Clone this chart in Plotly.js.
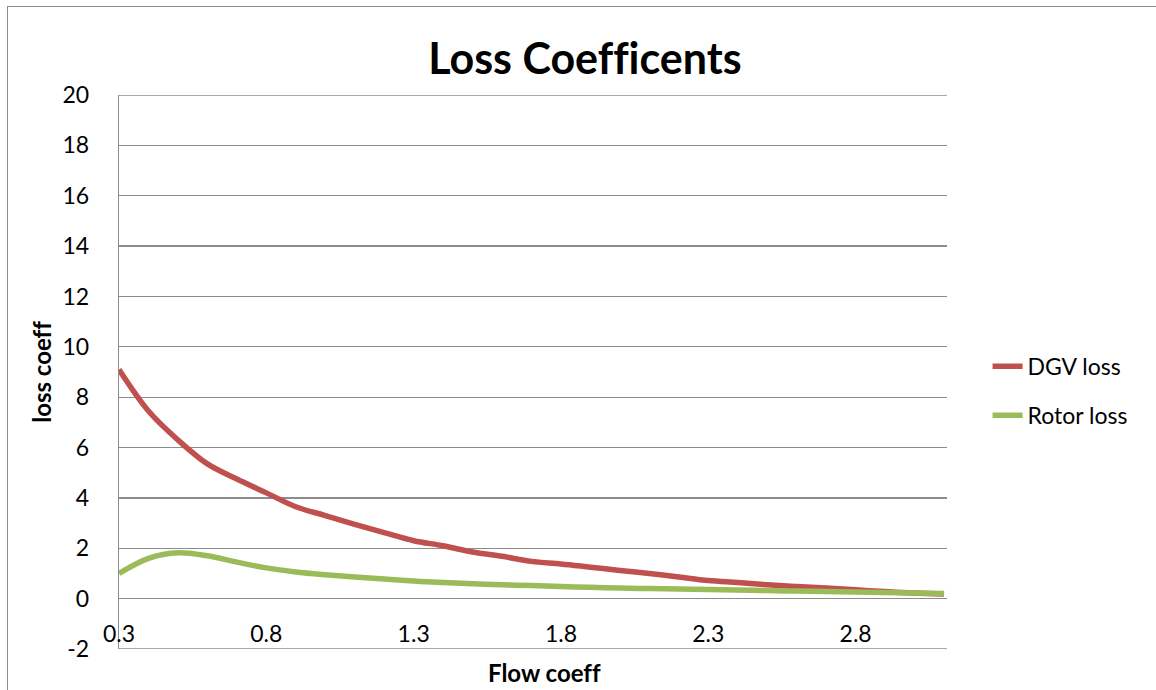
<!DOCTYPE html>
<html>
<head>
<meta charset="utf-8">
<script src="https://cdn.plot.ly/plotly-3.0.1.min.js"></script>
<style>
  html, body { margin: 0; padding: 0; background: #fff; }
  #wrap { position: relative; width: 1156px; height: 690px; overflow: hidden; }
  #chart { width: 1156px; height: 690px; }
  #frame { position: absolute; left: 7px; top: 6px; width: 1200px; height: 760px;
           border: 1px solid #8c8c8c; pointer-events: none; box-sizing: border-box; }
  svg text { font-variant-ligatures: none; font-feature-settings: "liga" 0; }
</style>
</head>
<body>
<div id="wrap">
  <div id="chart"></div>
  <div id="frame"></div>
</div>
<script>
const flowCoeff = [0.3,0.4,0.5,0.6,0.7,0.8,0.9,1.0,1.1,1.2,1.3,1.4,1.5,1.6,1.7,1.8,1.9,2.0,2.1,2.2,2.3,2.4,2.5,2.6,2.7,2.8,2.9,3.0,3.1];
const dgvLoss = [9.1,7.45,6.3,5.35,4.75,4.2,3.65,3.3,2.95,2.62,2.3,2.1,1.85,1.68,1.48,1.38,1.25,1.12,1.0,0.86,0.72,0.64,0.55,0.48,0.42,0.35,0.28,0.22,0.18];
const rotorLoss = [1.0,1.6,1.82,1.7,1.45,1.22,1.06,0.95,0.86,0.78,0.7,0.64,0.59,0.55,0.52,0.48,0.45,0.42,0.4,0.38,0.36,0.34,0.32,0.3,0.28,0.26,0.24,0.22,0.2];
const seriesNames = ["DGV loss", "Rotor loss"];
const xTicks = [0.3, 0.8, 1.3, 1.8, 2.3, 2.8];
const yTicks = [-2, 0, 2, 4, 6, 8, 10, 12, 14, 16, 18, 20];

const FONT = "Lato, 'Open Sans', sans-serif";

const traces = [
  { x: flowCoeff, y: dgvLoss, name: seriesNames[0], type: "scatter", mode: "lines",
    line: { color: "#C0504D", width: 5.5, shape: "spline" }, legendgroup: "a" },
  { x: flowCoeff, y: rotorLoss, name: seriesNames[1], type: "scatter", mode: "lines",
    line: { color: "#9BBB59", width: 5.5, shape: "spline" }, legendgroup: "b" }
];

const layout = {
  width: 1156, height: 690,
  margin: { l: 119, r: 209, t: 95, b: 41, pad: 0 },
  paper_bgcolor: "#ffffff", plot_bgcolor: "#ffffff",
  font: { family: FONT, color: "#000000", size: 23 },
  title: { text: "<b>Loss Coefficents</b>", font: { family: FONT, size: 43, color: "#000" },
           x: 0.506, xanchor: "center", y: 0.915, yanchor: "middle" },
  xaxis: {
    range: [0.3, 3.11], tickvals: xTicks, ticktext: xTicks.map(v => v.toFixed(1)),
    showgrid: false, zeroline: false, showline: false, ticks: "",
    anchor: "free", position: 0.056,
    tickfont: { family: FONT, size: 23, color: "#000" }
  },
  yaxis: {
    range: [-2, 20], tickvals: yTicks, ticktext: yTicks.map(v => String(v).replace("\u2212", "-")),
    showgrid: true, gridcolor: "#8c8c8c", gridwidth: 1.3,
    zeroline: false, showline: true, linecolor: "#8c8c8c", linewidth: 1.3,
    ticks: "outside", ticklen: 24, tickcolor: "rgba(0,0,0,0)",
    tickfont: { family: FONT, size: 23, color: "#000" },
    title: { text: "<b>loss coeff</b>", font: { family: FONT, size: 24, color: "#000" }, standoff: 4 }
  },
  shapes: [
    { type: "line", xref: "paper", yref: "y", x0: 0, x1: 1, y0: -2, y1: -2,
      line: { color: "#8c8c8c", width: 1.3 } },
    { type: "line", xref: "paper", yref: "y", x0: 0, x1: 1, y0: 20, y1: 20,
      line: { color: "#8c8c8c", width: 1.3 } }
  ],
  annotations: [
    { text: "<b>Flow coeff</b>", xref: "paper", yref: "paper", x: 0.514, y: -0.043,
      xanchor: "center", yanchor: "middle", showarrow: false,
      font: { family: FONT, size: 24, color: "#000" } }
  ],
  legend: {
    x: 1.049, xanchor: "left", y: 0.466, yanchor: "middle",
    font: { family: FONT, size: 23, color: "#000" },
    traceorder: "grouped", tracegroupgap: 16, bgcolor: "rgba(0,0,0,0)"
  },
  showlegend: true
};

Plotly.newPlot("chart", traces, layout, { displayModeBar: false, staticPlot: true });
</script>
</body>
</html>
